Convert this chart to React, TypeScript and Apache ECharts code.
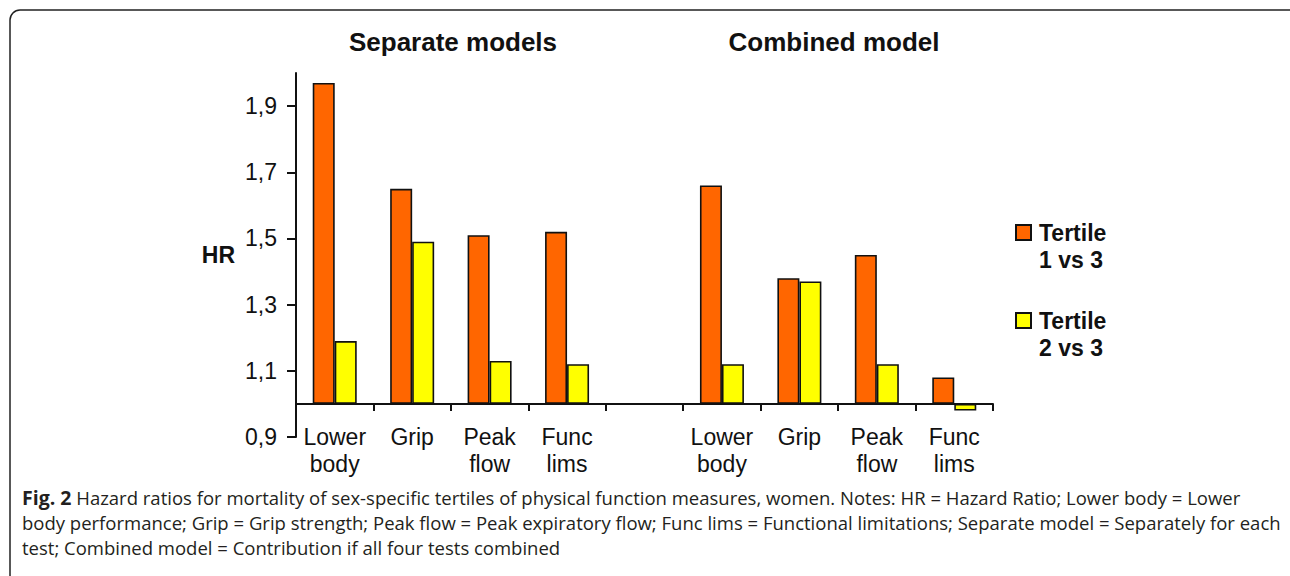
import React, { useEffect, useRef } from "react";
import * as echarts from "echarts";

const categories = ["Lower\nbody", "Grip", "Peak\nflow", "Func\nlims", "", "Lower\nbody", "Grip", "Peak\nflow", "Func\nlims"];
const tertile1vs3 = [1.97, 1.65, 1.51, 1.52, null, 1.66, 1.38, 1.45, 1.08];
const tertile2vs3 = [1.19, 1.49, 1.13, 1.12, null, 1.12, 1.37, 1.12, 0.98];
const seriesNames = ["Tertile\n1 vs 3", "Tertile\n2 vs 3"];
const yTickValues = [0.9, 1.1, 1.3, 1.5, 1.7, 1.9];
const groupTitles = ["Separate models", "Combined model"];
const captionLines = [
  "Hazard ratios for mortality of sex-specific tertiles of physical function measures, women. Notes: HR = Hazard Ratio; Lower body = Lower",
  "body performance; Grip = Grip strength; Peak flow = Peak expiratory flow; Func lims = Functional limitations; Separate model = Separately for each",
  "test; Combined model = Contribution if all four tests combined",
];
const BASELINE = 1.0;
const AXIS_MIN = 0.9;
const AXIS_MAX = 2.0;

export default function App() {
  const ref = useRef<HTMLDivElement>(null);
  useEffect(() => {
    if (!ref.current) return;
    const chart = echarts.init(ref.current, null, { renderer: "svg" });
    const font = "Liberation Sans, Arial, sans-serif";
    const shift = (v: number | null) => (v == null ? null : +(v - BASELINE).toFixed(3));
    const tickPos = yTickValues.map((v) => shift(v) as number);
    chart.setOption({
      animation: false,
      backgroundColor: "#ffffff",
      grid: { left: 296, right: 297, top: 73, bottom: 139, containLabel: false },
      legend: {
        orient: "vertical",
        left: 1015,
        top: 192,
        padding: 0,
        itemWidth: 15,
        itemHeight: 15,
        itemGap: 7,
        icon: "rect",
        selectedMode: false,
        formatter: (name: string) => "\n" + name,
        textStyle: { fontFamily: font, fontWeight: "bold", fontSize: 23, color: "#111", lineHeight: 27, padding: [0, 0, 0, 3] },
        data: seriesNames,
      },
      xAxis: {
        type: "category",
        data: categories,
        axisLine: { onZero: true, lineStyle: { color: "#111", width: 2 } },
        axisTick: { show: true, length: 7, lineStyle: { color: "#111", width: 2 } },
        axisLabel: { fontFamily: font, fontSize: 23, color: "#111", lineHeight: 27, margin: -14, interval: 0 },
        splitLine: { show: false },
      },
      yAxis: {
        type: "value",
        min: shift(AXIS_MIN),
        max: shift(AXIS_MAX),
        axisLine: { show: true, lineStyle: { color: "#111", width: 2 } },
        axisTick: { show: true, length: 9, customValues: tickPos, lineStyle: { color: "#111", width: 2 } },
        axisLabel: {
          fontFamily: font,
          fontSize: 23,
          color: "#111",
          margin: 19,
          customValues: tickPos,
          formatter: (v: number) => (v + BASELINE).toFixed(1).replace(".", ","),
        },
        splitLine: { show: false },
        name: "HR",
        nameLocation: "middle",
        nameRotate: 0,
        nameGap: 61,
        nameTextStyle: { fontFamily: font, fontWeight: "bold", fontSize: 23, color: "#111" },
      },
      series: [
        {
          name: seriesNames[0],
          type: "bar",
          data: tertile1vs3.map(shift),
          barWidth: 22,
          barGap: "0%",
          itemStyle: { color: "#FF6600", borderColor: "#111", borderWidth: 1.6 },
        },
        {
          name: seriesNames[1],
          type: "bar",
          data: tertile2vs3.map(shift),
          barWidth: 22,
          barGap: "0%",
          itemStyle: { color: "#FFFF00", borderColor: "#111", borderWidth: 1.6 },
        },
      ],
      graphic: [
        {
          type: "rect",
          shape: { x: 10, y: 10, width: 1290, height: 575, r: 10 },
          style: { fill: "none", stroke: "#222", lineWidth: 1.5 },
          silent: true,
        },
        {
          type: "text",
          x: 453,
          y: 42,
          style: { text: groupTitles[0], align: "center", verticalAlign: "middle", font: `bold 26px ${font}`, fill: "#111" },
        },
        {
          type: "text",
          x: 834,
          y: 42,
          style: { text: groupTitles[1], align: "center", verticalAlign: "middle", font: `bold 26px ${font}`, fill: "#111" },
        },
        {
          type: "text",
          x: 22,
          y: 485,
          style: {
            text: "{b|Fig. 2} " + captionLines.join("\n"),
            fill: "#231f20",
            fontFamily: "Open Sans, sans-serif",
            fontSize: 18.5,
            lineHeight: 25,
            rich: {
              b: { fontFamily: "Open Sans, sans-serif", fontSize: 19.5, fontWeight: "bold", fill: "#231f20", lineHeight: 25 },
            },
          },
        },
      ],
    });
    return () => chart.dispose();
  }, []);
  return <div ref={ref} style={{ position: "fixed", left: 0, top: 0, width: 1290, height: 576 }} />;
}
